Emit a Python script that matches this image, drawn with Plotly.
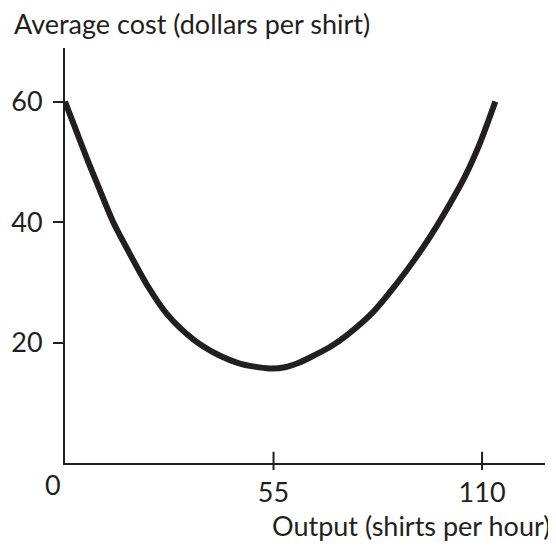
import plotly.graph_objects as go

# Data
output_x = [0, 3, 6, 9, 12.7, 17.2, 21.6, 26.8, 33.9, 40.9, 45.7, 50, 54, 58, 61.5, 65.5, 70, 74.3, 81.3, 87.5, 92, 96.3, 100, 105.5, 109.5, 113.5]
avg_cost = [60, 55.1, 50.2, 45.6, 40.0, 34.6, 29.6, 24.8, 20.5, 17.8, 16.6, 16.0, 15.7, 15.9, 16.6, 17.8, 19.3, 21.2, 25.1, 29.8, 33.6, 37.6, 41.4, 47.6, 53.2, 60]

x_ticks = [55, 110]
y_ticks = [20, 40, 60]

X_MAX = 126.6
Y_MAX = 68.9

INK = "#231f20"
FONT = "Lato"
FS = 27

fig = go.Figure()
fig.add_trace(go.Scatter(
    x=output_x, y=avg_cost, mode="lines",
    line=dict(color=INK, width=6, shape="spline", smoothing=0.8),
    hoverinfo="skip", showlegend=False,
))

# crossing tick marks (x) built from tick list
shapes = []
for xt in x_ticks:
    shapes.append(dict(type="line", xref="paper", yref="paper", x0=xt / X_MAX, x1=xt / X_MAX,
                       y0=-0.017, y1=0.027, line=dict(color=INK, width=2), layer="above"))

fig.update_layout(
    template="none",
    width=548, height=538,
    margin=dict(l=57, r=11, t=40, b=83, pad=0, autoexpand=False),
    paper_bgcolor="white", plot_bgcolor="white",
    font=dict(family=FONT, color=INK, size=FS),
    shapes=shapes,
    xaxis=dict(range=[0, X_MAX], showgrid=False, zeroline=False, automargin=False,
               showline=True, linecolor=INK, linewidth=2,
               tickmode="array", tickvals=x_ticks, ticktext=[str(v) for v in x_ticks],
               ticks="outside", ticklen=5, tickcolor="rgba(0,0,0,0)",
               tickfont=dict(family=FONT, size=FS, color=INK)),
    yaxis=dict(range=[0, Y_MAX], showgrid=False, zeroline=False, automargin=False,
               showline=True, linecolor=INK, linewidth=2,
               tickmode="array", tickvals=y_ticks, ticktext=[str(v) for v in y_ticks],
               ticks="outside", ticklen=10, tickwidth=2, tickcolor=INK,
               ticklabelstandoff=5,
               tickfont=dict(family=FONT, size=FS, color=INK)),
    annotations=[
        dict(text="Average cost (dollars per shirt)", xref="paper", yref="paper",
             x=-0.110, y=1.058, xanchor="left", yanchor="middle", showarrow=False,
             font=dict(family=FONT, size=FS, color=INK)),
        dict(text="Output (shirts per hour)", xref="paper", yref="paper",
             x=1.0146, y=-0.1505, xanchor="right", yanchor="middle", showarrow=False,
             font=dict(family=FONT, size=FS, color=INK)),
        dict(text="0", xref="x", yref="y", x=0, y=0, xshift=-12, yshift=-21,
             xanchor="center", yanchor="middle", showarrow=False,
             font=dict(family=FONT, size=FS, color=INK)),
    ],
)

fig.write_html("out.html")
